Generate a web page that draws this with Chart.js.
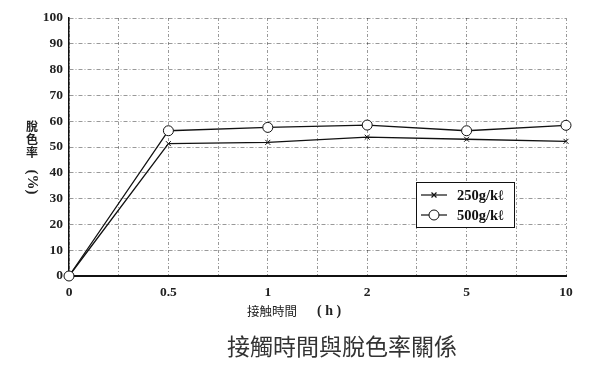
<!DOCTYPE html>
<html>
<head>
<meta charset="utf-8">
<script src="https://cdn.jsdelivr.net/npm/chart.js@4.4.0/dist/chart.umd.min.js"></script>
<style>
  html, body { margin: 0; padding: 0; background: #fff; }
  #wrap { width: 600px; height: 373px; position: relative; }
</style>
</head>
<body>
<div id="wrap"><canvas id="chart"></canvas></div>
<script>
// 接触時間 (h) のカテゴリ
const categories = ["0", "0.5", "1", "2", "5", "10"];
const series250 = [0, 51.3, 51.8, 53.8, 53.0, 52.2];
const series500 = [0, 56.3, 57.6, 58.5, 56.3, 58.4];
const seriesNames = ["250g/k\u2113", "500g/k\u2113"];
const yTicks = [0, 10, 20, 30, 40, 50, 60, 70, 80, 90, 100];

const toPoints = vals => vals.map((v, i) => ({ x: i, y: v }));

const tickFont = { family: "Liberation Serif", size: 13.5, weight: "bold" };
const gridStyle = {
    color: "rgba(0,0,0,0.4)",
    lineWidth: 1,
    drawTicks: false
};

// 軸タイトル・凡例・表題を描く
const decorPlugin = {
    id: "decor",
    afterDatasetsDraw(chart) {
        const ctx = chart.ctx;
        ctx.save();
        ctx.fillStyle = "#222";
        ctx.textAlign = "center";
        ctx.textBaseline = "middle";

        // y title, stacked
        ctx.font = "bold 12px 'Noto Sans CJK TC'";
        ["脫", "色", "率"].forEach((c, i) => ctx.fillText(c, 32, 126 + i * 13));
        ctx.save();
        ctx.translate(32, 182);
        ctx.rotate(Math.PI / 2);
        ctx.font = "bold 15px 'Liberation Serif'";
        ctx.fillText("(%)", 0, 0);
        ctx.restore();

        // x title
        ctx.font = "12.5px 'Noto Sans CJK TC'";
        ctx.textAlign = "left";
        ctx.fillText("接触時間", 247, 311);
        ctx.font = "bold 14px 'Liberation Serif'";
        ctx.fillText("( h )", 317, 311);

        // legend box
        ctx.fillStyle = "#fff";
        ctx.fillRect(416, 182, 98, 45);
        ctx.strokeStyle = "#111";
        ctx.lineWidth = 1;
        ctx.strokeRect(416.5, 182.5, 98, 45);
        ctx.font = "bold 14.5px 'Liberation Serif'";
        ctx.fillStyle = "#111";
        chart.data.datasets.forEach((ds, i) => {
            const y = 195 + i * 20;
            ctx.beginPath();
            ctx.moveTo(421, y);
            ctx.lineTo(447, y);
            ctx.lineWidth = 1.2;
            ctx.stroke();
            if (ds.pointStyle === "circle") {
                ctx.fillStyle = "#fff";
                ctx.beginPath();
                ctx.arc(434, y, ds.pointRadius, 0, Math.PI * 2);
                ctx.fill();
                ctx.lineWidth = 1;
                ctx.stroke();
                ctx.fillStyle = "#111";
            } else {
                Chart.helpers.drawPoint(ctx, {
                    pointStyle: ds.pointStyle,
                    radius: ds.pointRadius,
                    borderWidth: 1,
                    rotation: 0
                }, 434, y);
            }
            ctx.fillText(ds.label, 457, y + 1);
        });

        // chart title
        ctx.font = "23px 'Noto Sans CJK TC'";
        ctx.fillStyle = "#333";
        ctx.textAlign = "center";
        ctx.fillText("接觸時間與脫色率關係", 342, 346);
        ctx.restore();
    }
};

const ctx = document.getElementById("chart").getContext("2d");
new Chart(ctx, {
    type: "line",
    data: {
        datasets: [
            {
                label: seriesNames[0],
                data: toPoints(series250),
                order: 1,
                clip: false,
                borderColor: "#111",
                borderWidth: 1.3,
                pointStyle: "crossRot",
                pointRadius: 3.5,
                pointBorderColor: "#111",
                pointBorderWidth: 1,
                tension: 0
            },
            {
                label: seriesNames[1],
                data: toPoints(series500),
                order: 0,
                clip: false,
                borderColor: "#111",
                borderWidth: 1.3,
                pointStyle: "circle",
                pointRadius: 5,
                pointBackgroundColor: "#fff",
                pointBorderColor: "#111",
                pointBorderWidth: 1,
                tension: 0
            }
        ]
    },
    options: {
        responsive: true,
        maintainAspectRatio: false,
        animation: false,
        layout: { padding: { left: 0, right: 34, top: 18, bottom: 0 } },
        plugins: {
            legend: { display: false },
            tooltip: { enabled: false }
        },
        scales: {
            x: {
                type: "linear",
                min: 0,
                max: categories.length - 1,
                afterFit: s => { s.height = 97; },
                afterBuildTicks: s => {
                    s.ticks = [];
                    for (let v = 0; v <= categories.length - 1; v += 0.5) s.ticks.push({ value: v });
                },
                ticks: {
                    autoSkip: false,
                    maxRotation: 0,
                    padding: 8,
                    color: "#222",
                    font: tickFont,
                    callback: v => Number.isInteger(v) ? categories[v] : ""
                },
                grid: { ...gridStyle },
                border: { display: true, color: "#111", width: 2, dash: [3, 2, 1, 2] }
            },
            y: {
                min: 0,
                max: 100,
                afterFit: s => { s.width = 69; },
                afterBuildTicks: s => { s.ticks = yTicks.map(v => ({ value: v })); },
                ticks: {
                    padding: 6,
                    color: "#222",
                    font: tickFont
                },
                grid: { ...gridStyle },
                border: { display: true, color: "#111", width: 1.5, dash: [4, 2, 1, 2] }
            }
        }
    },
    plugins: [decorPlugin]
});
</script>
</body>
</html>
